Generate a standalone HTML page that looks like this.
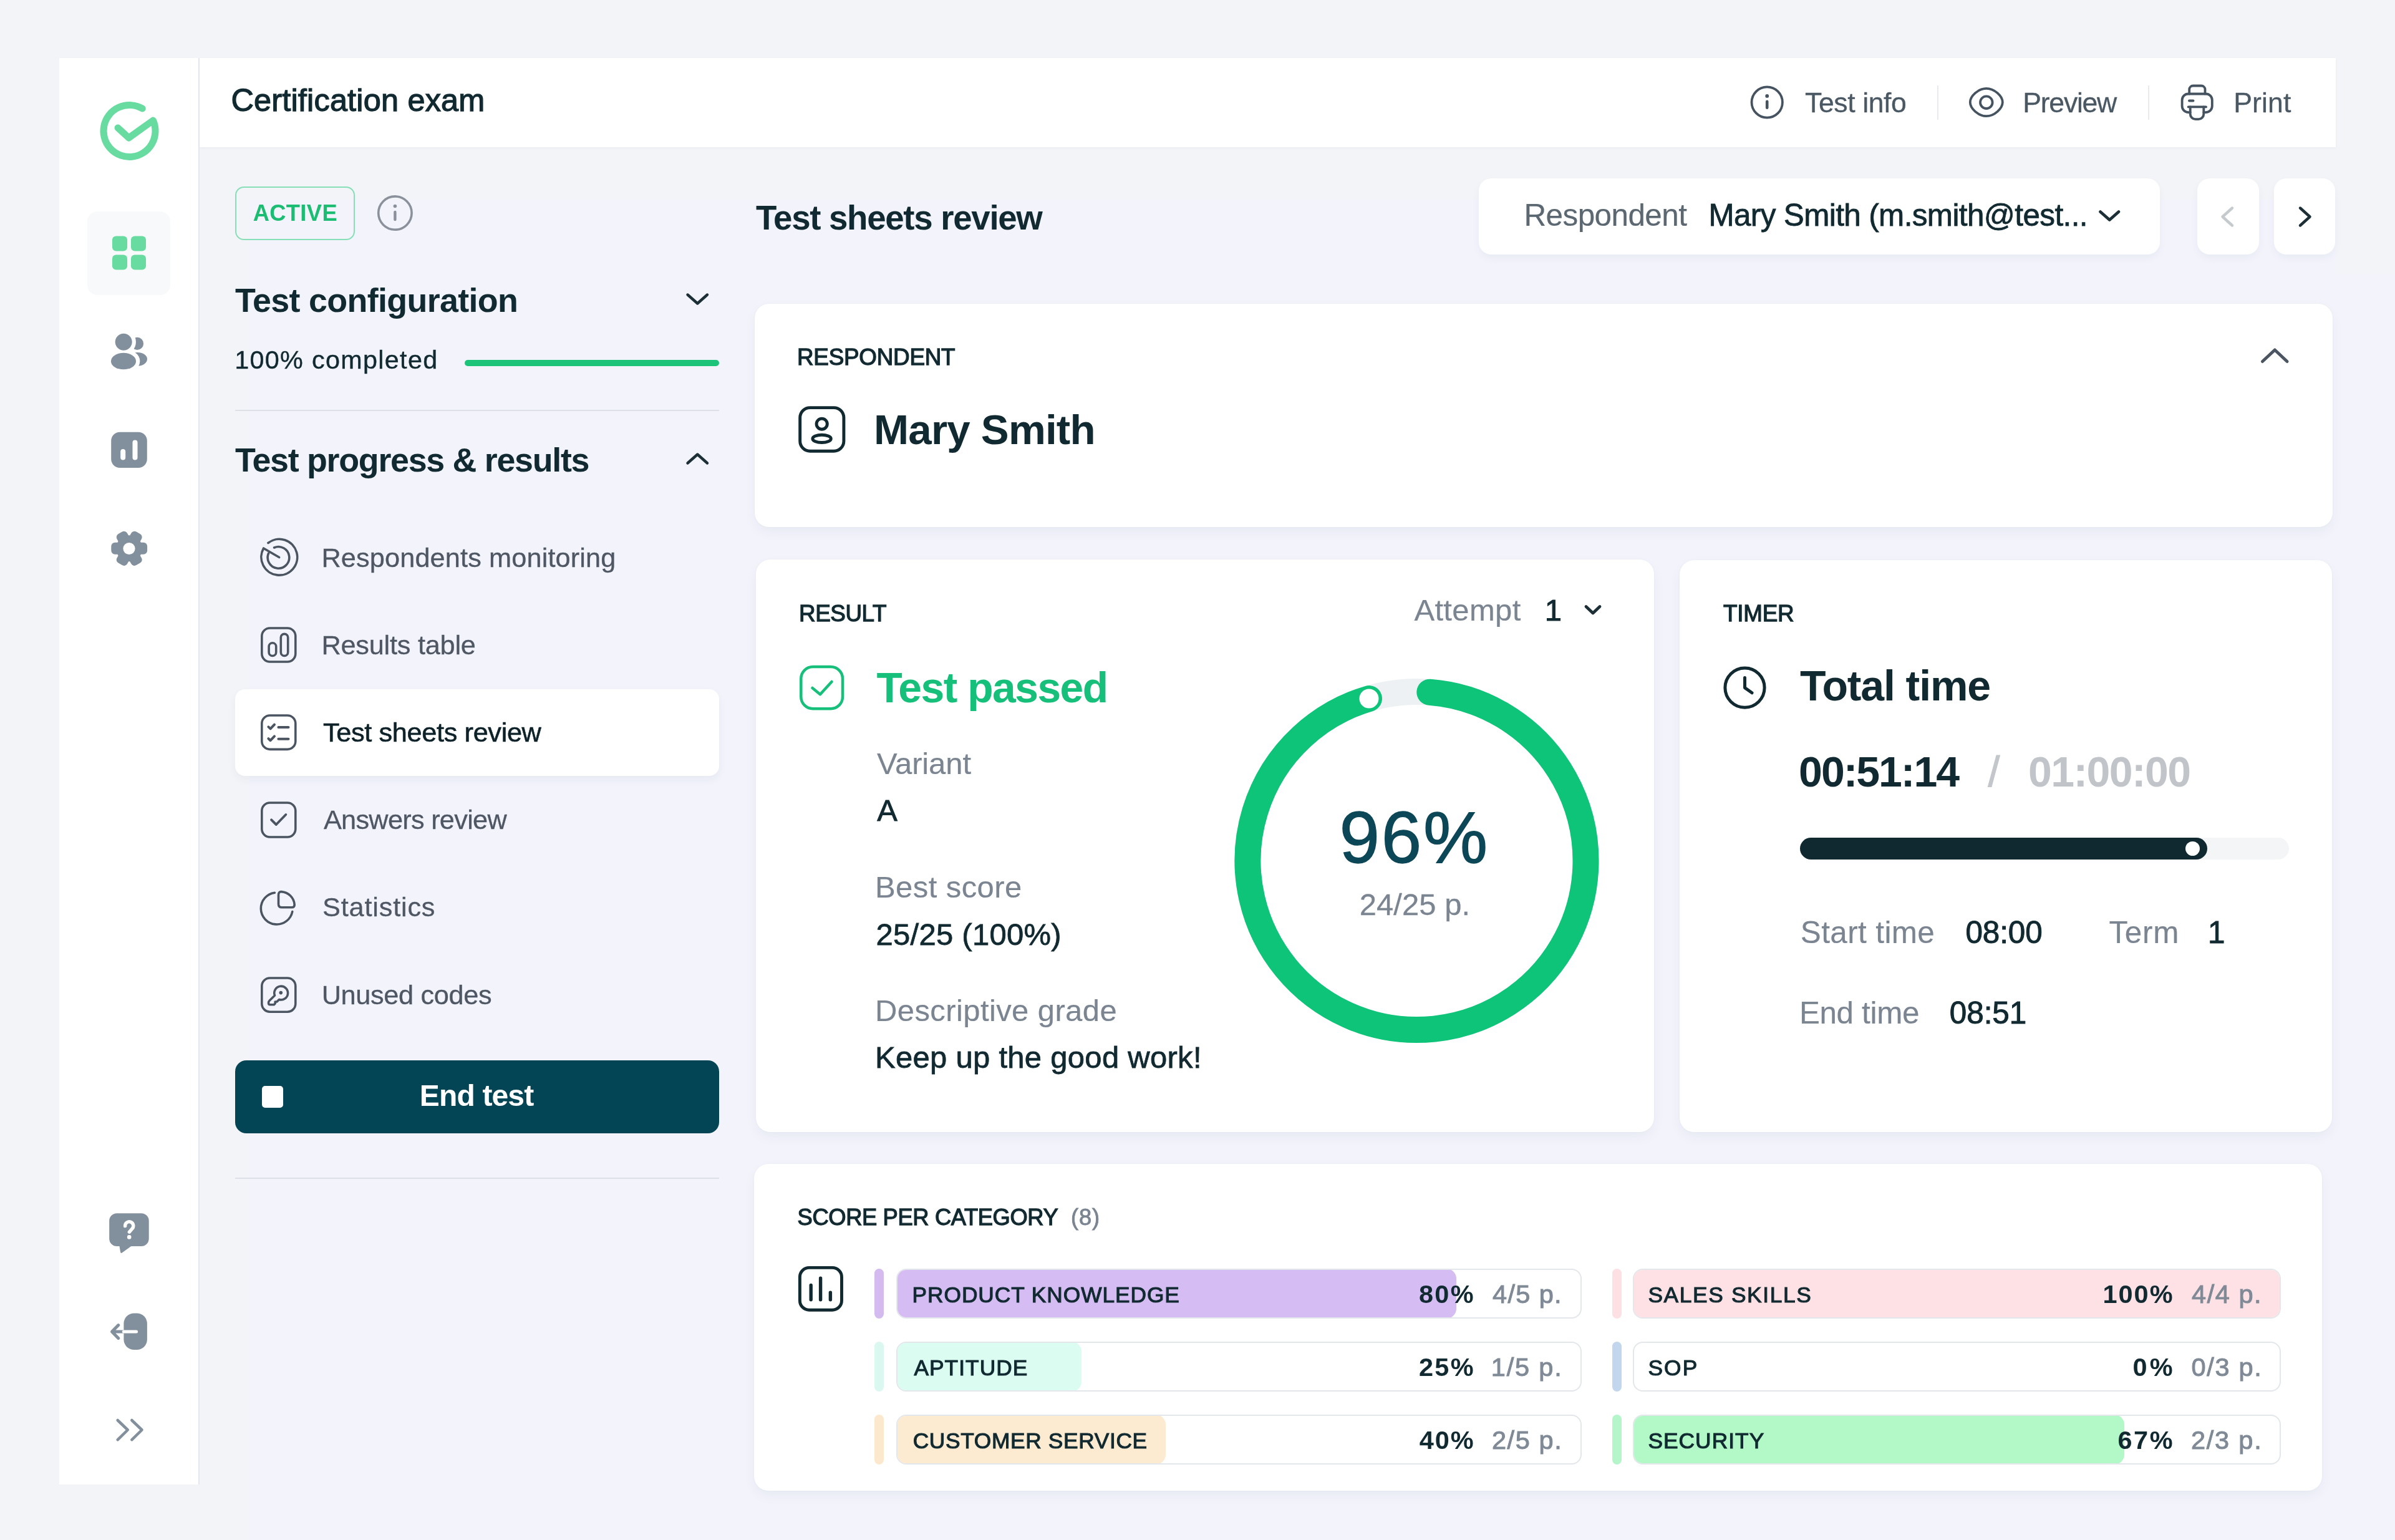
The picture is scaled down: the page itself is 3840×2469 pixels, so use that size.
<!DOCTYPE html>
<html><head><meta charset="utf-8"><title>Certification exam</title><style>
html,body{margin:0;padding:0;width:3840px;height:2469px;overflow:hidden;background:#f3f4f8;font-family:"Liberation Sans",sans-serif}
.a{position:absolute;box-sizing:border-box}
.card{background:#fff;border-radius:23px;box-shadow:0 0 3px rgba(20,30,60,0.04),0 8px 20px rgba(30,50,80,0.045)}
svg text{font-family:"Liberation Sans",sans-serif}
</style></head><body>
<!-- bg tint -->
<div class="a" style="left:400px;top:320px;width:3440px;height:2149px;background:#f2f3fb"></div>
<div class="a" style="left:3745px;top:320px;width:95px;height:120px;background:#f3f4f8"></div>
<!-- sidebar + header -->
<div class="a" style="left:95px;top:93px;width:225px;height:2287px;background:#fff;border-right:2px solid #e5e8ee"></div>
<div class="a" style="left:320px;top:93px;width:3425px;height:143px;background:#fff;box-shadow:0 2px 5px rgba(20,30,50,0.035)"></div>
<!-- sidebar active bg -->
<div class="a" style="left:140px;top:339px;width:133px;height:134px;background:#f8f9fb;border-radius:16px"></div>
<!-- left nav -->
<div class="a" style="left:377px;top:299px;width:192px;height:86px;border:2px solid #86dfb6;border-radius:14px"></div>
<div class="a" style="left:745px;top:577px;width:408px;height:10px;background:#1cc47a;border-radius:5px"></div>
<div class="a" style="left:377px;top:657px;width:776px;height:2px;background:#dde0e6"></div>
<div class="a" style="left:377px;top:1105px;width:776px;height:139px;background:#fff;border-radius:16px;box-shadow:0 6px 14px rgba(30,50,80,0.05)"></div>
<div class="a" style="left:377px;top:1700px;width:776px;height:117px;background:#034555;border-radius:18px"></div>
<div class="a" style="left:420px;top:1741px;width:34px;height:35px;background:#fff;border-radius:5px"></div>
<div class="a" style="left:377px;top:1888px;width:776px;height:2px;background:#dde0e6"></div>
<div class="a" style="left:3106px;top:137px;width:2px;height:55px;background:#e8eaed"></div>
<div class="a" style="left:3444px;top:137px;width:2px;height:55px;background:#e8eaed"></div>
<!-- top controls -->
<div class="a" style="left:2371px;top:286px;width:1092px;height:122px;background:#fff;border-radius:20px;box-shadow:0 6px 14px rgba(30,50,80,0.04)"></div>
<div class="a" style="left:3523px;top:286px;width:99px;height:122px;background:#fff;border-radius:20px;box-shadow:0 6px 14px rgba(30,50,80,0.04)"></div>
<div class="a" style="left:3646px;top:286px;width:98px;height:122px;background:#fff;border-radius:20px;box-shadow:0 6px 14px rgba(30,50,80,0.04)"></div>
<!-- cards -->
<div class="a card" style="left:1210px;top:487px;width:2530px;height:358px"></div>
<div class="a card" style="left:1212px;top:897px;width:1440px;height:918px"></div>
<div class="a card" style="left:2693px;top:898px;width:1046px;height:917px"></div>
<div class="a card" style="left:1209px;top:1866px;width:2514px;height:524px"></div>
<!-- score bars -->
<div class="a" style="left:1402px;top:2034px;width:15px;height:80px;background:#d3bbf0;border-radius:8px"></div>
<div class="a" style="left:1437px;top:2034px;width:1099px;height:80px;border:2px solid #e3e6ea;border-radius:16px;overflow:hidden"><div class="a" style="left:-2px;top:-2px;width:898px;height:80px;background:#d5bcf3;border-radius:16px"></div></div>
<div class="a" style="left:1402px;top:2151px;width:15px;height:80px;background:#dbf8f0;border-radius:8px"></div>
<div class="a" style="left:1437px;top:2151px;width:1099px;height:80px;border:2px solid #e3e6ea;border-radius:16px;overflow:hidden"><div class="a" style="left:-2px;top:-2px;width:297px;height:80px;background:#dafcf1;border-radius:16px"></div></div>
<div class="a" style="left:1402px;top:2268px;width:15px;height:80px;background:#fce9cd;border-radius:8px"></div>
<div class="a" style="left:1437px;top:2268px;width:1099px;height:80px;border:2px solid #e3e6ea;border-radius:16px;overflow:hidden"><div class="a" style="left:-2px;top:-2px;width:432px;height:80px;background:#fcebd0;border-radius:16px"></div></div>
<div class="a" style="left:2585px;top:2034px;width:15px;height:80px;background:#fde0e4;border-radius:8px"></div>
<div class="a" style="left:2618px;top:2034px;width:1039px;height:80px;border:2px solid #e3e6ea;border-radius:16px;overflow:hidden"><div class="a" style="left:-2px;top:-2px;width:1039px;height:80px;background:#fee1e5;border-radius:16px"></div></div>
<div class="a" style="left:2585px;top:2151px;width:15px;height:80px;background:#c2d7ed;border-radius:8px"></div>
<div class="a" style="left:2618px;top:2151px;width:1039px;height:80px;border:2px solid #e3e6ea;border-radius:16px"></div>
<div class="a" style="left:2585px;top:2268px;width:15px;height:80px;background:#b5f5ca;border-radius:8px"></div>
<div class="a" style="left:2618px;top:2268px;width:1039px;height:80px;border:2px solid #e3e6ea;border-radius:16px;overflow:hidden"><div class="a" style="left:-2px;top:-2px;width:788px;height:80px;background:#b2f9c7;border-radius:16px"></div></div>
<!-- timer bar -->
<div class="a" style="left:2886px;top:1343px;width:784px;height:35px;background:#f3f5f7;border-radius:18px"></div>
<div class="a" style="left:2886px;top:1343px;width:653px;height:35px;background:#102930;border-radius:18px"></div>
<div class="a" style="left:3504px;top:1348.6px;width:23.4px;height:23.4px;background:#fff;border-radius:50%"></div>

<svg class="a" style="left:0;top:0;will-change:transform" width="3840" height="2469" viewBox="0 0 3840 2469">
<g fill="none" stroke-linecap="round" stroke-linejoin="round">
<!-- logo -->
<path d="M189 205 L206.5 221 L245.4 193.1 A41.5 41.5 0 1 1 228.25 174.06" stroke="#67dba0" stroke-width="11"/>
<!-- donut -->
<circle cx="2271.5" cy="1380" r="271" stroke="#eef1f3" stroke-width="42"/>
<path d="M2292.29 1109.80 A271 271 0 1 1 2194.99 1120.03" stroke="#0dc479" stroke-width="42"/>
<circle cx="2194.99" cy="1120.03" r="15.5" fill="#fff" stroke="none"/>
</g>
<!-- header icons -->
<g fill="none" stroke="#44535f" stroke-width="3.8" stroke-linecap="round" stroke-linejoin="round">
<circle cx="2833.2" cy="164" r="24.7"/>
<line x1="2833.2" y1="162.8" x2="2833.2" y2="172.8" stroke-width="4.6"/>
<path d="M3158.8 164 C3158.8 154 3172 141.8 3184.8 141.8 C3197.6 141.8 3210.8 154 3210.8 164 C3210.8 174 3197.6 186.2 3184.8 186.2 C3172 186.2 3158.8 174 3158.8 164 Z"/>
<circle cx="3184.8" cy="164.2" r="9.8"/>
<path d="M3511.7 180.1 H3508.6 A10 10 0 0 1 3498.6 170.1 V160.5 A10 10 0 0 1 3508.6 150.5 H3536.8 A10 10 0 0 1 3546.8 160.5 V170.1 A10 10 0 0 1 3536.8 180.1 H3533.3"/>
<path d="M3510.2 150.5 V143.5 A6 6 0 0 1 3516.2 137.5 H3529.5 A6 6 0 0 1 3535.5 143.5 V150.5"/>
<path d="M3508.7 171.4 H3537"/>
<path d="M3511.7 171.4 V182.8 A8.3 8.3 0 0 0 3520 191.1 H3525 A8.3 8.3 0 0 0 3533.3 182.8 V171.4"/>
<path d="M3510 161.5 H3516.5"/>
</g>
<circle cx="2833.2" cy="153.9" r="2.9" fill="#44535f"/>

<!-- sidebar icons -->
<g fill="#67dba0">
<rect x="180" y="378.5" width="24" height="24" rx="6"/>
<rect x="210" y="378.5" width="24" height="24" rx="6"/>
<rect x="180" y="408.5" width="24" height="24" rx="6"/>
<rect x="210" y="408.5" width="24" height="24" rx="6"/>
</g>
<g fill="#82909d">
<circle cx="220" cy="550.9" r="10.1"/>
<ellipse cx="220.5" cy="575.8" rx="15.5" ry="10.9"/>
<g stroke="#fff" fill="#fff" stroke-width="12.5">
<circle cx="198.2" cy="548.2" r="13.5"/>
<ellipse cx="198" cy="579.1" rx="20.1" ry="13.25"/>
</g>
<circle cx="198.2" cy="548.2" r="13.5"/>
<ellipse cx="198" cy="579.1" rx="20.1" ry="13.25"/>
<rect x="178.2" y="692.7" width="57.6" height="57.4" rx="14"/>
</g>
<g stroke="#fff" stroke-width="8" stroke-linecap="round">
<line x1="197.2" y1="724" x2="197.2" y2="733.4"/>
<line x1="216.5" y1="709.4" x2="216.5" y2="733.6"/>
</g>
<g fill="#82909d">
<circle cx="207.2" cy="879.3" r="21"/>
<rect x="214.1" y="869.8" width="22" height="19" rx="6"/>
<rect x="214.1" y="869.8" width="22" height="19" rx="6" transform="rotate(60 207.2 879.3)"/>
<rect x="214.1" y="869.8" width="22" height="19" rx="6" transform="rotate(120 207.2 879.3)"/>
<rect x="214.1" y="869.8" width="22" height="19" rx="6" transform="rotate(180 207.2 879.3)"/>
<rect x="214.1" y="869.8" width="22" height="19" rx="6" transform="rotate(240 207.2 879.3)"/>
<rect x="214.1" y="869.8" width="22" height="19" rx="6" transform="rotate(300 207.2 879.3)"/>
</g>
<circle cx="207" cy="879.5" r="9.6" fill="#fff"/>
<path d="M187.2 1945.2 H226.7 A12 12 0 0 1 238.7 1957.2 V1985.9 A12 12 0 0 1 226.7 1997.9 H210.3 L196 2008.3 Q193.5 2010 193 2007 L191.5 1997.9 H187.2 A12 12 0 0 1 175.2 1985.9 V1957.2 A12 12 0 0 1 187.2 1945.2 Z" fill="#82909d"/>
<path d="M200.6 1965.6 A6.6 6.6 0 1 1 211.5 1970.3 L207.4 1975.2" fill="none" stroke="#fff" stroke-width="5.4" stroke-linecap="round"/>
<circle cx="207.2" cy="1983.4" r="3.3" fill="#fff"/>
<rect x="198.4" y="2105.5" width="37.5" height="58.5" rx="16.5" fill="#82909d"/>
<g fill="none" stroke-width="5" stroke-linecap="round" stroke-linejoin="round">
<path d="M198.4 2135 H180.5 M189.8 2124.6 L179.5 2135 L189.8 2145.4" stroke="#82909d"/>
<path d="M198.4 2135 H218.6" stroke="#fff" stroke-linecap="round"/>
<path d="M188.6 2277 L204.8 2292.5 L188.6 2308.3 M211.3 2277 L227.5 2292.5 L211.3 2308.3" stroke="#82909d" stroke-width="4.5"/>
</g>

<!-- left nav -->
<g fill="none" stroke="#8a919b" stroke-width="3.6" stroke-linecap="round">
<circle cx="633.4" cy="341.6" r="26.7"/>
<line x1="633.4" y1="340" x2="633.4" y2="352" stroke-width="4.4"/>
</g>
<circle cx="633.4" cy="330.5" r="2.8" fill="#8a919b"/>
<g fill="none" stroke="#1d2f36" stroke-width="4.4" stroke-linecap="round" stroke-linejoin="round">
<path d="M1102.5 472.5 L1118.3 486.5 L1134 472.5"/>
<path d="M1102.5 742.5 L1118.3 728.5 L1134 742.5"/>
</g>
<g fill="none" stroke="#4b5561" stroke-width="3.6" stroke-linecap="round" stroke-linejoin="round">
<!-- respondents monitoring -->
<path d="M429.9 870.5 A28.9 28.9 0 1 1 422.6 879 L447.6 893.5"/>
<path d="M439.6 878 A17.3 17.3 0 1 1 430.6 887"/>
<!-- results table -->
<rect x="419.8" y="1007" width="54" height="54" rx="13"/>
<rect x="431.1" y="1030.8" width="11.6" height="20.7" rx="5.8"/>
<rect x="450.3" y="1016.4" width="11.4" height="35.1" rx="5.7"/>
<!-- test sheets -->
<rect x="419.8" y="1147" width="54" height="54.4" rx="13"/>
<path d="M430.4 1165.4 L433.6 1168.4 L440 1161.6 M446.4 1165.9 H462.5 M430.4 1184.2 L433.6 1187.2 L440 1180.4 M446.4 1184.7 H462.5" stroke-width="4"/>
<!-- answers review -->
<rect x="419.8" y="1287" width="54" height="55" rx="13"/>
<path d="M435.1 1314.3 L442.8 1322 L458.3 1306" stroke-width="3.9"/>
<!-- statistics -->
<path d="M468.8 1461.5 A25.5 25.5 0 1 1 440.4 1431.2"/>
<path d="M446.5 1435 Q446.5 1429.4 451 1429.6 A22.5 22.5 0 0 1 472.2 1450.5 Q472.2 1454.8 468 1454.8 H452 Q446.5 1454.8 446.5 1449.5 Z"/>
<!-- unused codes -->
<rect x="419.8" y="1568" width="54" height="54.2" rx="13"/>
<path d="M440.5 1596 A10.9 10.9 0 1 1 447.5 1602.5 L444 1606 H441.2 V1608.8 L439.3 1610.8 H433 Q430.6 1610.8 430.6 1608.5 V1607 Q430.6 1605.5 432 1604.3 Z"/>
</g>
<circle cx="450.3" cy="1591.6" r="2.8" fill="#4b5561"/>

<!-- main -->
<g fill="none" stroke-linecap="round" stroke-linejoin="round">
<path d="M3367.5 339.5 L3382.3 352.5 L3397 339.5" stroke="#1d2f36" stroke-width="4.8"/>
<path d="M3579 333.5 L3563.5 347.5 L3579 361.5" stroke="#c5cace" stroke-width="4.4"/>
<path d="M3688 333.5 L3703.5 347.5 L3688 361.5" stroke="#1d2f36" stroke-width="4.4"/>
<path d="M3627.5 579.5 L3647.3 561 L3667 579.5" stroke="#4b5561" stroke-width="5"/>
<rect x="1282.7" y="653.6" width="70.2" height="69.6" rx="16" stroke="#112930" stroke-width="4.9"/>
<circle cx="1317.7" cy="679.7" r="8.6" stroke="#112930" stroke-width="4.9"/>
<ellipse cx="1317.6" cy="703.4" rx="14.7" ry="6.1" stroke="#112930" stroke-width="4.9"/>
<rect x="1284.3" y="1069" width="66.7" height="67.2" rx="19" stroke="#17c07a" stroke-width="4.5"/>
<path d="M1302.5 1103 L1315 1113.2 L1333.5 1093" stroke="#17c07a" stroke-width="4.5"/>
<path d="M2543 972.5 L2554 983 L2565 972.5" stroke="#1d2f36" stroke-width="4.8"/>
<circle cx="2797.5" cy="1102.6" r="31.6" stroke="#112930" stroke-width="5"/>
<path d="M2797.5 1086.5 V1102.6 L2809 1110.8" stroke="#112930" stroke-width="5"/>
<rect x="1282.4" y="2032.4" width="67.1" height="67.8" rx="15" stroke="#112930" stroke-width="4.9"/>
<path d="M1300.2 2060.4 V2083.8 M1315.6 2049.3 V2083.8 M1331.4 2072.2 V2083.8" stroke="#112930" stroke-width="5.4"/>
</g>

<text x="370.4" y="177.7" font-size="50.4" fill="#112930" stroke="#112930" stroke-width="1.3" textLength="406.9" lengthAdjust="spacing">Certification exam</text>
<text x="2894.0" y="179.5" font-size="44.6" fill="#4a5864" stroke="#4a5864" stroke-width="0.3" textLength="162.9" lengthAdjust="spacing">Test info</text>
<text x="3243.3" y="179.5" font-size="44.6" fill="#4a5864" stroke="#4a5864" stroke-width="0.3" textLength="151.0" lengthAdjust="spacing">Preview</text>
<text x="3581.3" y="179.5" font-size="44.6" fill="#4a5864" stroke="#4a5864" stroke-width="0.3" textLength="92.0" lengthAdjust="spacing">Print</text>
<text x="405.7" y="354.0" font-size="36.3" font-weight="bold" fill="#1bbd73" textLength="134.9" lengthAdjust="spacing">ACTIVE</text>
<text x="376.9" y="499.6" font-size="53.8" font-weight="bold" fill="#112930" textLength="453.9" lengthAdjust="spacing">Test configuration</text>
<text x="376.2" y="590.8" font-size="41.3" fill="#112930" stroke="#112930" stroke-width="0.4" textLength="325.0" lengthAdjust="spacing">100% completed</text>
<text x="376.9" y="756.3" font-size="53.8" font-weight="bold" fill="#112930" textLength="568.6" lengthAdjust="spacing">Test progress &amp; results</text>
<text x="515.4" y="908.7" font-size="43.3" fill="#4e5763" stroke="#4e5763" stroke-width="0.3" textLength="472.0" lengthAdjust="spacing">Respondents monitoring</text>
<text x="515.4" y="1049.0" font-size="43.3" fill="#4e5763" stroke="#4e5763" stroke-width="0.3" textLength="247.5" lengthAdjust="spacing">Results table</text>
<text x="518.0" y="1189.0" font-size="43.3" fill="#0d2128" stroke="#0d2128" stroke-width="0.6" textLength="349.9" lengthAdjust="spacing">Test sheets review</text>
<text x="518.9" y="1329.0" font-size="43.3" fill="#4e5763" stroke="#4e5763" stroke-width="0.3" textLength="293.8" lengthAdjust="spacing">Answers review</text>
<text x="517.0" y="1469.4" font-size="43.3" fill="#4e5763" stroke="#4e5763" stroke-width="0.3" textLength="180.5" lengthAdjust="spacing">Statistics</text>
<text x="515.7" y="1609.7" font-size="43.3" fill="#4e5763" stroke="#4e5763" stroke-width="0.3" textLength="272.9" lengthAdjust="spacing">Unused codes</text>
<text x="672.8" y="1772.8" font-size="48" font-weight="bold" fill="#ffffff" textLength="183.4" lengthAdjust="spacing">End test</text>
<text x="1212.0" y="367.7" font-size="54.7" font-weight="bold" fill="#112930" textLength="459.9" lengthAdjust="spacing">Test sheets review</text>
<text x="2443.5" y="362.0" font-size="49.4" fill="#5b6771" stroke="#5b6771" stroke-width="0.2" textLength="261.4" lengthAdjust="spacing">Respondent</text>
<text x="2739.4" y="362.0" font-size="49.4" fill="#112930" stroke="#112930" stroke-width="0.8" textLength="608.1" lengthAdjust="spacing">Mary Smith (m.smith@test...</text>
<text x="1278.0" y="584.5" font-size="36.8" fill="#112930" stroke="#112930" stroke-width="1.3" textLength="253.6" lengthAdjust="spacing">RESPONDENT</text>
<text x="1401.0" y="711.5" font-size="67.3" font-weight="bold" fill="#112930" textLength="355.6" lengthAdjust="spacing">Mary Smith</text>
<text x="1281.0" y="995.8" font-size="36.8" fill="#112930" stroke="#112930" stroke-width="1.3" textLength="140.4" lengthAdjust="spacing">RESULT</text>
<text x="2267.4" y="994.5" font-size="49" fill="#7b8592" stroke="#7b8592" stroke-width="0.2" textLength="170.9" lengthAdjust="spacing">Attempt</text>
<text x="2476.8" y="994.5" font-size="49" fill="#112930" stroke="#112930" stroke-width="1.0" textLength="23.6" lengthAdjust="spacing">1</text>
<text x="1405.5" y="1126.0" font-size="67.7" font-weight="bold" fill="#17c07a" textLength="371.6" lengthAdjust="spacing">Test passed</text>
<text x="1406.1" y="1240.7" font-size="49" fill="#7b8592" stroke="#7b8592" stroke-width="0.2" textLength="150.9" lengthAdjust="spacing">Variant</text>
<text x="1406.2" y="1315.7" font-size="49" fill="#112930" stroke="#112930" stroke-width="0.8" textLength="30.6" lengthAdjust="spacing">A</text>
<text x="1403.0" y="1439.2" font-size="49" fill="#7b8592" stroke="#7b8592" stroke-width="0.2" textLength="235.2" lengthAdjust="spacing">Best score</text>
<text x="1404.5" y="1514.6" font-size="49" fill="#112930" stroke="#112930" stroke-width="0.8" textLength="297.2" lengthAdjust="spacing">25/25 (100%)</text>
<text x="1403.0" y="1636.6" font-size="49" fill="#7b8592" stroke="#7b8592" stroke-width="0.2" textLength="387.7" lengthAdjust="spacing">Descriptive grade</text>
<text x="1403.0" y="1712.4" font-size="49" fill="#112930" stroke="#112930" stroke-width="0.8" textLength="523.5" lengthAdjust="spacing">Keep up the good work!</text>
<text x="2147.6" y="1383.0" font-size="116" fill="#0c4757" stroke="#0c4757" stroke-width="1.3" textLength="237.6" lengthAdjust="spacing">96%</text>
<text x="2179.8" y="1467.3" font-size="49" fill="#7b8592" stroke="#7b8592" stroke-width="0.3" textLength="177.3" lengthAdjust="spacing">24/25 p.</text>
<text x="2763.0" y="995.5" font-size="36.8" fill="#112930" stroke="#112930" stroke-width="1.3" textLength="113.7" lengthAdjust="spacing">TIMER</text>
<text x="2886.0" y="1123.2" font-size="68" font-weight="bold" fill="#112930" textLength="306.1" lengthAdjust="spacing">Total time</text>
<text x="2884.1" y="1261.0" font-size="68" font-weight="bold" fill="#112930" textLength="258.0" lengthAdjust="spacing">00:51:14</text>
<text x="3187.5" y="1261.0" font-size="68" fill="#c3c7cc" stroke="#c3c7cc" stroke-width="1.2" textLength="22.9" lengthAdjust="spacing">/</text>
<text x="3252.1" y="1261.0" font-size="68" font-weight="bold" fill="#c1c5ca" textLength="260.9" lengthAdjust="spacing">01:00:00</text>
<text x="2886.8" y="1512.2" font-size="49.4" fill="#7b8592" stroke="#7b8592" stroke-width="0.2" textLength="215.0" lengthAdjust="spacing">Start time</text>
<text x="3151.5" y="1512.2" font-size="49.4" fill="#112930" stroke="#112930" stroke-width="1.0" textLength="123.1" lengthAdjust="spacing">08:00</text>
<text x="3381.4" y="1512.2" font-size="49.4" fill="#7b8592" stroke="#7b8592" stroke-width="0.2" textLength="111.9" lengthAdjust="spacing">Term</text>
<text x="3540.0" y="1512.2" font-size="49.4" fill="#112930" stroke="#112930" stroke-width="1.0" textLength="24.9" lengthAdjust="spacing">1</text>
<text x="2884.9" y="1640.8" font-size="49.4" fill="#7b8592" stroke="#7b8592" stroke-width="0.2" textLength="192.5" lengthAdjust="spacing">End time</text>
<text x="3125.7" y="1640.8" font-size="49.4" fill="#112930" stroke="#112930" stroke-width="1.0" textLength="123.6" lengthAdjust="spacing">08:51</text>
<text x="1278.6" y="1963.7" font-size="36.3" fill="#112930" stroke="#112930" stroke-width="1.3" textLength="418.1" lengthAdjust="spacing">SCORE PER CATEGORY</text>
<text x="1717.0" y="1963.7" font-size="36.3" fill="#7b8592" stroke="#7b8592" stroke-width="0.9" textLength="46.0" lengthAdjust="spacing">(8)</text>
<text x="1462.6" y="2087.5" font-size="35.3" fill="#112930" stroke="#112930" stroke-width="1.1" textLength="428.3" lengthAdjust="spacing">PRODUCT KNOWLEDGE</text>
<text x="2275.0" y="2088.5" font-size="41.5" font-weight="bold" fill="#112930" textLength="87.6" lengthAdjust="spacing">80%</text>
<text x="2393.0" y="2088.5" font-size="41.5" fill="#7f8a96" stroke="#7f8a96" stroke-width="1.0" textLength="110.6" lengthAdjust="spacing">4/5 p.</text>
<text x="1465.4" y="2204.5" font-size="35.3" fill="#112930" stroke="#112930" stroke-width="1.1" textLength="182.0" lengthAdjust="spacing">APTITUDE</text>
<text x="2274.9" y="2205.5" font-size="41.5" font-weight="bold" fill="#112930" textLength="87.7" lengthAdjust="spacing">25%</text>
<text x="2390.8" y="2205.5" font-size="41.5" fill="#7f8a96" stroke="#7f8a96" stroke-width="1.0" textLength="112.9" lengthAdjust="spacing">1/5 p.</text>
<text x="1463.7" y="2321.5" font-size="35.3" fill="#112930" stroke="#112930" stroke-width="1.1" textLength="375.4" lengthAdjust="spacing">CUSTOMER SERVICE</text>
<text x="2275.7" y="2322.5" font-size="41.5" font-weight="bold" fill="#112930" textLength="86.9" lengthAdjust="spacing">40%</text>
<text x="2391.9" y="2322.5" font-size="41.5" fill="#7f8a96" stroke="#7f8a96" stroke-width="1.0" textLength="111.8" lengthAdjust="spacing">2/5 p.</text>
<text x="2642.4" y="2087.5" font-size="35.3" fill="#112930" stroke="#112930" stroke-width="1.1" textLength="261.5" lengthAdjust="spacing">SALES SKILLS</text>
<text x="3371.4" y="2088.5" font-size="41.5" font-weight="bold" fill="#112930" textLength="112.2" lengthAdjust="spacing">100%</text>
<text x="3514.0" y="2088.5" font-size="41.5" fill="#7f8a96" stroke="#7f8a96" stroke-width="1.0" textLength="111.6" lengthAdjust="spacing">4/4 p.</text>
<text x="2642.4" y="2204.5" font-size="35.3" fill="#112930" stroke="#112930" stroke-width="1.1" textLength="78.9" lengthAdjust="spacing">SOP</text>
<text x="3419.4" y="2205.5" font-size="41.5" font-weight="bold" fill="#112930" textLength="64.2" lengthAdjust="spacing">0%</text>
<text x="3513.4" y="2205.5" font-size="41.5" fill="#7f8a96" stroke="#7f8a96" stroke-width="1.0" textLength="112.3" lengthAdjust="spacing">0/3 p.</text>
<text x="2642.4" y="2321.5" font-size="35.3" fill="#112930" stroke="#112930" stroke-width="1.1" textLength="185.8" lengthAdjust="spacing">SECURITY</text>
<text x="3395.5" y="2322.5" font-size="41.5" font-weight="bold" fill="#112930" textLength="88.1" lengthAdjust="spacing">67%</text>
<text x="3512.9" y="2322.5" font-size="41.5" fill="#7f8a96" stroke="#7f8a96" stroke-width="1.0" textLength="112.8" lengthAdjust="spacing">2/3 p.</text>
</svg>
</body></html>
